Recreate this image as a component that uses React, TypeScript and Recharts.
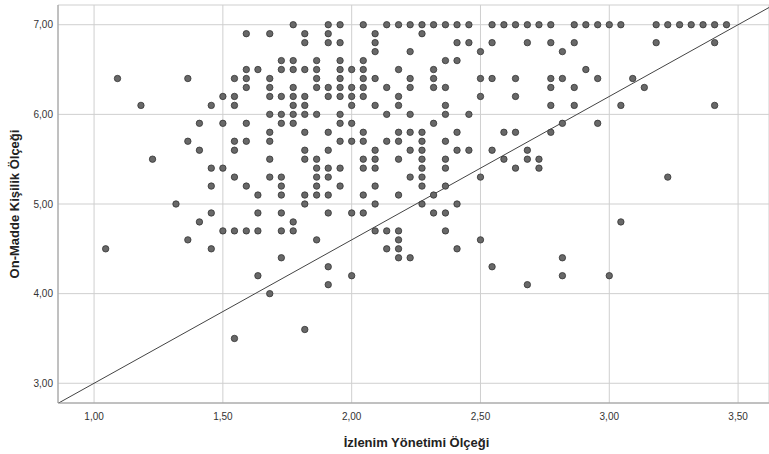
import {
  CartesianGrid,
  ReferenceLine,
  Scatter,
  ScatterChart,
  XAxis,
  YAxis,
} from "recharts";

// x values (İzlenim Yönetimi) for each y level (On-Madde Kişilik)
const r700 = [1.773, 1.909, 1.955, 2.045, 2.136, 2.182, 2.227, 2.273, 2.318, 2.364, 2.409, 2.455, 2.545, 2.591, 2.636, 2.682, 2.727, 2.773, 2.864, 2.909, 2.955, 3.0, 3.045, 3.182, 3.227, 3.273, 3.318, 3.364, 3.409, 3.455];
const r690 = [1.591, 1.682, 1.818, 1.909, 2.091, 2.273];
const r680 = [1.818, 1.909, 1.955, 2.091, 2.409, 2.455, 2.545, 2.682, 2.773, 2.864, 3.182, 3.409];
const r670 = [2.091, 2.227, 2.5, 2.818];
const r660 = [1.727, 1.773, 1.864, 1.955, 2.045, 2.364, 2.409];
const r650 = [1.591, 1.636, 1.727, 1.773, 1.818, 1.864, 1.955, 2.0, 2.045, 2.182, 2.318, 2.909];
const r640 = [1.091, 1.364, 1.545, 1.591, 1.682, 1.864, 1.955, 2.045, 2.091, 2.227, 2.318, 2.5, 2.545, 2.636, 2.773, 2.818, 2.955, 3.091];
const r630 = [1.591, 1.682, 1.773, 1.864, 1.909, 1.955, 2.0, 2.045, 2.136, 2.227, 2.318, 2.364, 2.773, 2.864, 3.136];
const r620 = [1.5, 1.545, 1.682, 1.727, 1.773, 1.818, 1.909, 1.955, 2.0, 2.045, 2.182, 2.5, 2.636];
const r610 = [1.182, 1.455, 1.545, 1.773, 1.818, 2.0, 2.091, 2.182, 2.364, 2.773, 2.864, 3.045, 3.409];
const r600 = [1.682, 1.727, 1.773, 1.818, 1.864, 1.955, 2.136, 2.227, 2.364, 2.455];
const r590 = [1.409, 1.5, 1.591, 1.727, 1.773, 1.955, 2.0, 2.318, 2.818, 2.955];
const r580 = [1.682, 1.818, 1.909, 2.045, 2.182, 2.227, 2.273, 2.409, 2.591, 2.636, 2.773];
const r570 = [1.364, 1.545, 1.591, 1.682, 1.955, 2.0, 2.045, 2.136, 2.182, 2.273, 2.364];
const r560 = [1.409, 1.545, 1.818, 1.909, 2.091, 2.227, 2.273, 2.409, 2.455, 2.545, 2.682];
const r550 = [1.227, 1.682, 1.818, 1.864, 2.045, 2.091, 2.182, 2.273, 2.364, 2.591, 2.682, 2.727];
const r540 = [1.455, 1.5, 1.864, 1.909, 1.955, 2.045, 2.091, 2.273, 2.364, 2.636, 2.727];
const r530 = [1.545, 1.682, 1.727, 1.864, 1.909, 2.227, 2.273, 2.5, 3.227];
const r520 = [1.455, 1.591, 1.727, 1.864, 1.955, 2.091, 2.273, 2.364];
const r510 = [1.636, 1.727, 1.818, 1.864, 1.909, 2.045, 2.182, 2.318];
const r500 = [1.318, 1.818, 2.091, 2.273, 2.409];
const r490 = [1.455, 1.636, 1.727, 1.909, 2.0, 2.045, 2.318, 2.364];
const r480 = [1.409, 1.773, 3.045];
const r470 = [1.5, 1.545, 1.591, 1.636, 1.727, 1.773, 2.091, 2.136, 2.182, 2.364];
const r460 = [1.364, 1.864, 2.182, 2.5];
const r450 = [1.045, 1.455, 2.136, 2.182, 2.409];
const r440 = [1.727, 2.182, 2.227, 2.818];
const r430 = [1.909, 2.545];
const r420 = [1.636, 2.0, 2.818, 3.0];
const r410 = [1.909, 2.682];
const r400 = [1.682];
const r360 = [1.818];
const r350 = [1.545];

const rows: [number, number[]][] = [
  [7.0, r700], [6.9, r690], [6.8, r680], [6.7, r670], [6.6, r660],
  [6.5, r650], [6.4, r640], [6.3, r630], [6.2, r620], [6.1, r610],
  [6.0, r600], [5.9, r590], [5.8, r580], [5.7, r570], [5.6, r560],
  [5.5, r550], [5.4, r540], [5.3, r530], [5.2, r520], [5.1, r510],
  [5.0, r500], [4.9, r490], [4.8, r480], [4.7, r470], [4.6, r460],
  [4.5, r450], [4.4, r440], [4.3, r430], [4.2, r420], [4.1, r410],
  [4.0, r400], [3.6, r360], [3.5, r350],
];

const points = rows.flatMap(([y, xs]) => xs.map((x) => ({ x, y })));

const xTicks = [1, 1.5, 2, 2.5, 3, 3.5];
const yTicks = [3, 4, 5, 6, 7];
const xDomain = [0.86, 3.62];
const yDomain = [2.78, 7.22];

// fit line
const fitIntercept = 1.4;
const fitSlope = 1.6;

const font = "'Liberation Sans', Arial, sans-serif";
const fmt = (v: number) => v.toFixed(2).replace(".", ",");

const Dot = (props: any) => (
  <circle
    cx={props.cx}
    cy={props.cy}
    r={3.2}
    fill="#686868"
    stroke="#333"
    strokeWidth={0.8}
  />
);

export default function App() {
  return (
    <div style={{ position: "absolute", left: 0, top: 0 }}>
      <ScatterChart
        width={769}
        height={454}
        margin={{ top: 5, right: 0, bottom: 0, left: 0 }}
      >
        <CartesianGrid stroke="#cfcfcf" strokeWidth={1} />
        <XAxis
          type="number"
          dataKey="x"
          domain={xDomain}
          ticks={xTicks}
          allowDataOverflow
          tickFormatter={fmt}
          height={51}
          tickLine={false}
          tickSize={4}
          tickMargin={6}
          axisLine={{ stroke: "#9a9a9a" }}
          tick={{ fill: "#333", fontSize: 10, fontFamily: font }}
          label={{
            content: ({ viewBox }: any) => (
              <text
                x={viewBox.x + viewBox.width / 2 + 3}
                y={viewBox.y + 44}
                textAnchor="middle"
                fontFamily={font}
                fontSize={13}
                fontWeight="bold"
                fill="#222"
              >
                İzlenim Yönetimi Ölçeği
              </text>
            ),
          }}
        />
        <YAxis
          type="number"
          dataKey="y"
          domain={yDomain}
          ticks={yTicks}
          allowDataOverflow
          tickFormatter={fmt}
          width={58}
          tickLine={false}
          tickSize={3}
          tickMargin={2}
          axisLine={{ stroke: "#9a9a9a" }}
          tick={{ fill: "#333", fontSize: 10, fontFamily: font }}
          label={{
            content: ({ viewBox }: any) => {
              const cx = viewBox.x + 19;
              const cy = viewBox.y + viewBox.height / 2;
              return (
                <text
                  x={cx}
                  y={cy}
                  transform={`rotate(-90 ${cx} ${cy})`}
                  textAnchor="middle"
                  fontFamily={font}
                  fontSize={13}
                  fontWeight="bold"
                  fill="#222"
                >
                  On-Madde Kişilik Ölçeği
                </text>
              );
            },
          }}
        />
        <ReferenceLine
          segment={[
            { x: xDomain[0], y: fitIntercept + fitSlope * xDomain[0] },
            { x: xDomain[1], y: fitIntercept + fitSlope * xDomain[1] },
          ]}
          stroke="#444"
          strokeWidth={1}
          ifOverflow="hidden"
        />
        <Scatter data={points} shape={Dot} isAnimationActive={false} />
      </ScatterChart>
    </div>
  );
}
